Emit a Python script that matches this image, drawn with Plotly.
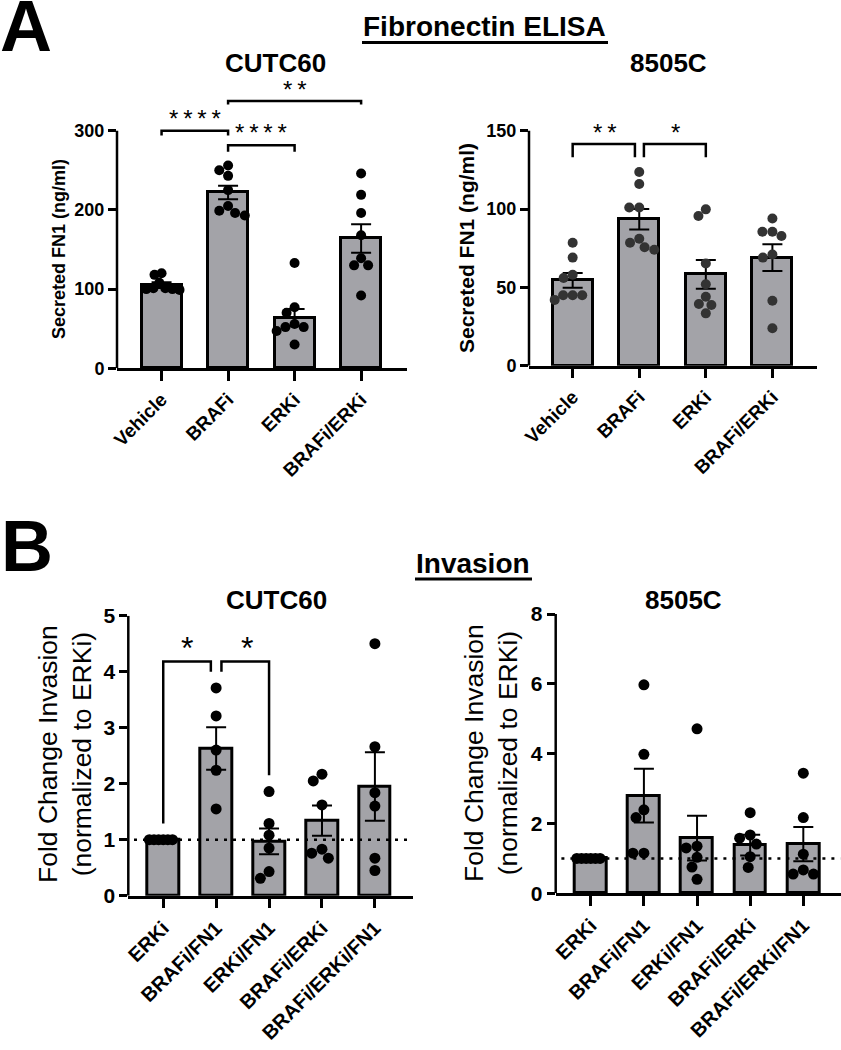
import plotly.graph_objects as go

# ---------------- data ----------------
elisa_cats = ["Vehicle", "BRAFi", "ERKi", "BRAFi/ERKi"]
inv_cats = ["ERKi", "BRAFi/FN1", "ERKi/FN1", "BRAFi/ERKi", "BRAFi/ERKi/FN1"]

cutc60_fn1_points = [
    [118, 108, 101, 99, 100, 101, 100, 120],
    [250, 256, 243, 225, 205, 193, 196, 199],
    [133, 77, 70, 56, 52, 52, 47, 30],
    [246, 219, 196, 168, 139, 130, 130, 92],
]
cutc60_fn1_mean = [105, 222, 64, 164]
cutc60_fn1_sem = [3.5, 8.5, 11, 18]

c8505_fn1_points = [
    [78.5, 69, 56, 58, 42, 45, 45, 45],
    [123.6, 116, 101, 101, 81, 78.5, 74, 75.6],
    [95.5, 99.8, 65.3, 52, 44, 39.4, 38.7, 33.4],
    [94, 85.5, 82.8, 85.5, 69, 71, 41.5, 23.9],
]
c8505_fn1_mean = [54.5, 93.5, 58.3, 69]
c8505_fn1_sem = [4.7, 6.5, 9.2, 8.6]

cutc60_inv_points = [
    [1, 1, 1, 1, 1, 1],
    [3.71, 3.21, 2.60, 2.24, 1.55],
    [1.86, 1.29, 1.08, 0.85, 0.43, 0.31],
    [2.17, 2.05, 1.62, 0.83, 0.67, 0.76],
    [4.5, 2.66, 1.84, 1.6, 0.67, 0.45],
]
cutc60_inv_mean = [1, 2.63, 0.97, 1.34, 1.95]
cutc60_inv_sem = [0, 0.38, 0.23, 0.27, 0.61]

c8505_inv_points = [
    [1, 1, 1, 1, 1, 1],
    [5.97, 3.98, 2.17, 2.39, 1.15, 1.15],
    [4.71, 1.35, 1.3, 1.03, 0.75, 0.40],
    [2.31, 1.58, 1.67, 1.41, 1.05, 0.74],
    [3.44, 2.17, 1.12, 0.55, 0.67, 0.55],
]
c8505_inv_mean = [1, 2.8, 1.58, 1.38, 1.41]
c8505_inv_sem = [0, 0.77, 0.64, 0.3, 0.49]

elisa_ticks = [[0, 100, 200, 300], [0, 50, 100, 150]]
inv_ticks = [[0, 1, 2, 3, 4, 5], [0, 2, 4, 6, 8]]

# ---------------- layout helpers ----------------
W, H = 841, 1050
FONT = "Arial, Liberation Sans, sans-serif"
GRAY = "#a3a3a8"


def fx(p):
    return p / W


def fy(p):
    return 1 - p / H


panels = [
    dict(ax="", cats=elisa_cats, pts=cutc60_fn1_points, mean=cutc60_fn1_mean, sem=cutc60_fn1_sem,
         ticks=elisa_ticks[0], left=117, right=407, base=368.3, toppx=130.7, top=300, domtop=62,
         xmin=-0.67, xmax=3.69, dot="#000000", msize=10, tickfont=18, catfont=19, dotted=False),
    dict(ax="2", cats=elisa_cats, pts=c8505_fn1_points, mean=c8505_fn1_mean, sem=c8505_fn1_sem,
         ticks=elisa_ticks[1], left=529, right=817, base=365.7, toppx=130.7, top=150, domtop=62,
         xmin=-0.656, xmax=3.67, dot="#333333", msize=10, tickfont=18, catfont=19, dotted=False),
    dict(ax="3", cats=inv_cats, pts=cutc60_inv_points, mean=cutc60_inv_mean, sem=cutc60_inv_sem,
         ticks=inv_ticks[0], left=128.3, right=413, base=895.7, toppx=615.7, top=5, domtop=615.7,
         xmin=-0.66, xmax=4.72, dot="#000000", msize=11, tickfont=21, catfont=20, dotted=True),
    dict(ax="4", cats=inv_cats, pts=c8505_inv_points, mean=c8505_inv_mean, sem=c8505_inv_sem,
         ticks=inv_ticks[1], left=555.7, right=840.5, base=893.3, toppx=614, top=8, domtop=614,
         xmin=-0.66, xmax=4.7, dot="#000000", msize=11, tickfont=21, catfont=20, dotted=True),
]

BAR_W = 0.6


def swarm(values, ppu_y, ppu_x, d, limit):
    order = sorted(range(len(values)), key=lambda i: -values[i])
    placed = []
    offs = [0.0] * len(values)
    for i in order:
        y = values[i] * ppu_y
        cands = [0.0]
        for (px, py) in placed:
            dy = abs(y - py)
            if dy < d:
                dx = (d * d - dy * dy) ** 0.5
                cands += [px + dx, px - dx]
        cands.sort(key=lambda c: (round(abs(c), 6), c))
        chosen = cands[-1]
        for c in cands:
            if all((c - px) ** 2 + (y - py) ** 2 >= d * d - 1e-6 for px, py in placed):
                chosen = c
                break
        placed.append((chosen, y))
        offs[i] = chosen
    m = max(abs(o) for o in offs)
    if m > limit:
        offs = [o * limit / m for o in offs]
    return [o / ppu_x for o in offs]


fig = go.Figure()
shapes = []
annotations = []

for p in panels:
    xa, ya = "x" + p["ax"], "y" + p["ax"]
    ppu_y = (p["base"] - p["toppx"]) / p["top"]
    ymax = p["top"] + (p["toppx"] - p["domtop"]) / ppu_y
    ppu_x = (p["right"] - p["left"]) / (p["xmax"] - p["xmin"])
    n = len(p["cats"])
    xs = list(range(n))
    fig.add_trace(go.Bar(x=xs, y=p["mean"], width=BAR_W, xaxis=xa, yaxis=ya,
                         marker=dict(color=GRAY, line=dict(color="black", width=3)),
                         showlegend=False, hoverinfo="skip"))
    ex = [i for i in xs if p["sem"][i] > 0]
    fig.add_trace(go.Scatter(x=ex, y=[p["mean"][i] for i in ex], mode="markers",
                             marker=dict(size=1, color="rgba(0,0,0,0)"),
                             error_y=dict(type="data", array=[p["sem"][i] for i in ex],
                                          color="black", thickness=2, width=10),
                             xaxis=xa, yaxis=ya, showlegend=False, cliponaxis=False, hoverinfo="skip"))
    px_all, py_all = [], []
    limit = BAR_W * ppu_x / 2 - 2
    for i, vals in enumerate(p["pts"]):
        offs = swarm(vals, ppu_y, ppu_x, p["msize"], limit)
        px_all += [i + o for o in offs]
        py_all += vals
    fig.add_trace(go.Scatter(x=px_all, y=py_all, mode="markers",
                             marker=dict(size=p["msize"], color=p["dot"], line=dict(width=0)),
                             xaxis=xa, yaxis=ya, showlegend=False, cliponaxis=False, hoverinfo="skip"))
    xkey = "xaxis" + p["ax"]
    ykey = "yaxis" + p["ax"]
    fig.layout[xkey] = dict(domain=[fx(p["left"]), fx(p["right"])], range=[p["xmin"], p["xmax"]],
                            anchor=ya, showline=True, linecolor="black", linewidth=2.5,
                            ticks="outside", ticklen=10, tickwidth=2.5, tickcolor="black",
                            tickvals=xs, ticktext=p["cats"], tickangle=-45, automargin=False,
                            tickfont=dict(family=FONT, size=p["catfont"], color="black", weight="bold"),
                            showgrid=False, zeroline=False, fixedrange=True)
    fig.layout[ykey] = dict(domain=[fy(p["base"]), fy(p["domtop"])], range=[0, ymax],
                            anchor=xa, showline=False, ticks="outside", ticklen=8, tickwidth=2.5,
                            tickcolor="black", tickvals=p["ticks"], automargin=False,
                            tickfont=dict(family=FONT, size=p["tickfont"], color="black", weight="bold"),
                            showgrid=False, zeroline=False, fixedrange=True)
    shapes.append(dict(type="line", xref=xa + " domain", yref=ya, x0=0, x1=0, y0=0, y1=p["top"],
                       line=dict(color="black", width=2.5)))
    if p["dotted"]:
        shapes.append(dict(type="line", xref=xa + " domain", yref=ya, x0=0.02, x1=1, y0=1, y1=1,
                           line=dict(color="black", width=2.5, dash="3px,6px")))


def bracket(ax, x0, x1, ytop, yl, yr, text, tx, ty, size):
    xa, ya = "x" + ax, "y" + ax
    shapes.append(dict(type="path", xref=xa, yref=ya,
                       path=f"M {x0},{yl} L {x0},{ytop} L {x1},{ytop} L {x1},{yr}",
                       line=dict(color="black", width=2.5)))
    annotations.append(dict(xref=xa, yref=ya, x=tx, y=ty, text=text, showarrow=False,
                            font=dict(family=FONT, size=size, color="black"),
                            xanchor="center", yanchor="middle"))


S4 = "*\u2009*\u2009*\u2009*"
S2 = "*\u2009*"
bracket("", 0, 1, 300, 294, 294, S4, 0.5, 316, 24)
bracket("", 1, 2, 281.5, 273.5, 273.5, S4, 1.5, 298, 24)
bracket("", 1, 3, 337.5, 333, 333, S2, 2.0, 352, 24)
bracket("2", 0, 0.935, 141.5, 133, 133, S2, 0.485, 149, 24)
bracket("2", 1.07, 2, 141.5, 133, 133, "*", 1.54, 149, 24)
bracket("3", 0, 0.9, 4.18, 1.29, 4.0, "*", 0.44, 4.42, 32)
bracket("3", 1.1, 2, 4.18, 4.0, 2.15, "*", 1.58, 4.42, 32)


def text(x, y, t, size, bold=True, angle=0, xanchor="center", yanchor="middle"):
    annotations.append(dict(xref="paper", yref="paper", x=fx(x), y=fy(y), text=t, showarrow=False,
                            textangle=angle, xanchor=xanchor, yanchor=yanchor,
                            font=dict(family=FONT, size=size, color="black",
                                      weight="bold" if bold else "normal")))


def underline(x0, x1, y):
    shapes.append(dict(type="line", xref="paper", yref="paper", x0=fx(x0), x1=fx(x1),
                       y0=fy(y), y1=fy(y), line=dict(color="black", width=3)))


text(-2, 26, "A", 72, xanchor="left")
text(-1, 546, "B", 72, xanchor="left")
text(485, 27, "Fibronectin ELISA", 28)
underline(362, 608, 42.5)
text(473, 563, "Invasion", 28)
underline(415, 532, 579)
text(275, 63, "CUTC60", 26)
text(668, 63, "8505C", 26)
text(276, 600, "CUTC60", 26)
text(683, 600, "8505C", 26)
text(59, 249, "Secreted FN1 (ng/ml)", 18, angle=-90)
text(467, 248, "Secreted FN1 (ng/ml)", 21, angle=-90)
text(65, 754, "Fold Change Invasion<br>(normalized to ERKi)", 26.5, bold=False, angle=-90)
text(491, 753, "Fold Change Invasion<br>(normalized to ERKi)", 26.5, bold=False, angle=-90)

fig.update_layout(width=W, height=H, margin=dict(l=0, r=0, t=0, b=0), autosize=False,
                  plot_bgcolor="white", paper_bgcolor="white", shapes=shapes,
                  annotations=annotations, bargap=0, showlegend=False)

fig.write_html("out.html", config={"displayModeBar": False},
               post_script="document.body.style.margin='0';document.body.style.overflow='hidden';")
